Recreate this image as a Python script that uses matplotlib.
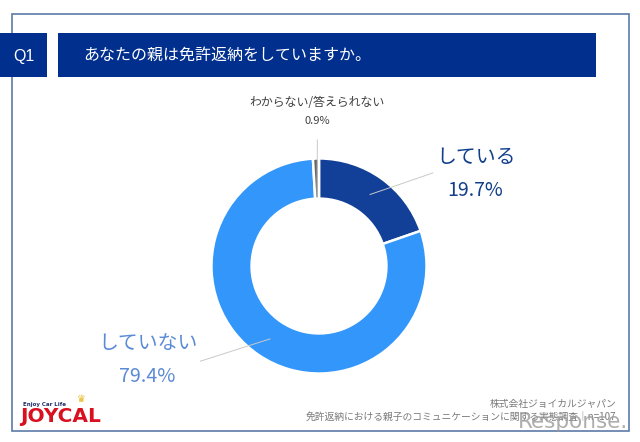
import numpy as np
import matplotlib
matplotlib.use("Agg")
import matplotlib.pyplot as plt
from matplotlib.patches import Rectangle

plt.rcParams['font.family'] = ['Noto Sans CJK JP', 'DejaVu Sans']

categories = ['している', 'していない', 'わからない/答えられない']
values = [19.7, 79.4, 0.9]
colors = ['#123f98', '#3396fb', '#666666']
title = 'あなたの親は免許返納をしていますか。'
question = 'Q1'
footer1 = '株式会社ジョイカルジャパン'
footer2 = '免許返納における親子のコミュニケーションに関する実態調査｜n=107'

W, H = 640, 442
fig = plt.figure(figsize=(W/100, H/100), dpi=100, facecolor='white')

# Pixel overlay
bg = fig.add_axes([0, 0, 1, 1])
bg.set_xlim(0, W); bg.set_ylim(H, 0); bg.axis('off')
bg.add_patch(Rectangle((12, 14), 617, 417, fc='white', ec='#5b7aa8', lw=1.2))
bg.add_patch(Rectangle((0, 33), 47, 44, fc='#002f8e', ec='none'))
bg.add_patch(Rectangle((58, 33), 538, 44, fc='#002f8e', ec='none'))
bg.text(24, 57, question, color='white', fontsize=11.5, ha='center', va='center', family=['Liberation Sans'])
bg.text(83, 55.5, title, color='white', fontsize=11.5, ha='left', va='center')

bg.text(317, 102, categories[2], color='#404040', fontsize=8.6, ha='center', va='center')
bg.text(317, 121, '0.9%', color='#404040', fontsize=8, ha='center', va='center')
bg.text(476, 157, categories[0], color='#123f8c', fontsize=14.3, ha='center', va='center')
bg.text(475, 190, '19.7%', color='#123f8c', fontsize=14, ha='center', va='center')
bg.text(148, 343, categories[1], color='#5b8bd6', fontsize=14.3, ha='center', va='center')
bg.text(147.5, 376, '79.4%', color='#5b8bd6', fontsize=14.2, ha='center', va='center')

bg.text(616, 404.5, footer1, color='#7a7a7a', fontsize=7.05, ha='right', va='center')
bg.text(616, 417, footer2, color='#7a7a7a', fontsize=7.05, ha='right', va='center')

# Logo
bg.text(44.5, 404.5, 'Enjoy Car Life', color='#1f2f6b', fontsize=4, fontweight='bold', ha='center', va='center', family=['DejaVu Sans'])
bg.text(60.5, 416, 'JOYCAL', color='#d9101f', fontsize=14.5, fontweight='black', ha='center', va='center', family=['DejaVu Sans'])
bg.text(81, 399, '♛', color='#e8b820', fontsize=7, ha='center', va='center', family=['DejaVu Sans'])

# Watermark
bg.text(628, 422, 'Response.', color='#9a9a9a', alpha=0.8, fontsize=15.5, ha='right', va='center', family=['DejaVu Sans'])

# Donut
cx, cy, R = 319, 266, 107
ax = fig.add_axes([(cx-R)/W, 1-(cy+R)/H, 2*R/W, 2*R/H])
ax.pie(values, colors=colors, startangle=90, counterclock=False, radius=1.005,
       wedgeprops=dict(width=0.375, edgecolor='white', linewidth=1.8))
ax.set_xlim(-1, 1); ax.set_ylim(-1, 1); ax.set_aspect('equal')

# Leader lines, from each wedge's mid-angle
cum = np.cumsum([0] + values)
mids = 90 - 3.6*(cum[:-1] + np.array(values)/2)
ends = [(1.065, 0.87), (-1.11, -0.89), (-0.015, 1.18)]
starts_r = [0.82, 0.82, 0.64]
for m, e, r in zip(mids, ends, starts_r):
    a = np.deg2rad(m)
    ax.annotate('', xy=(r*np.cos(a), r*np.sin(a)), xytext=e, annotation_clip=False,
                arrowprops=dict(arrowstyle='-', color='#c9c9c9', lw=0.7, shrinkA=0, shrinkB=0))

fig.savefig('out.png', dpi=100)
